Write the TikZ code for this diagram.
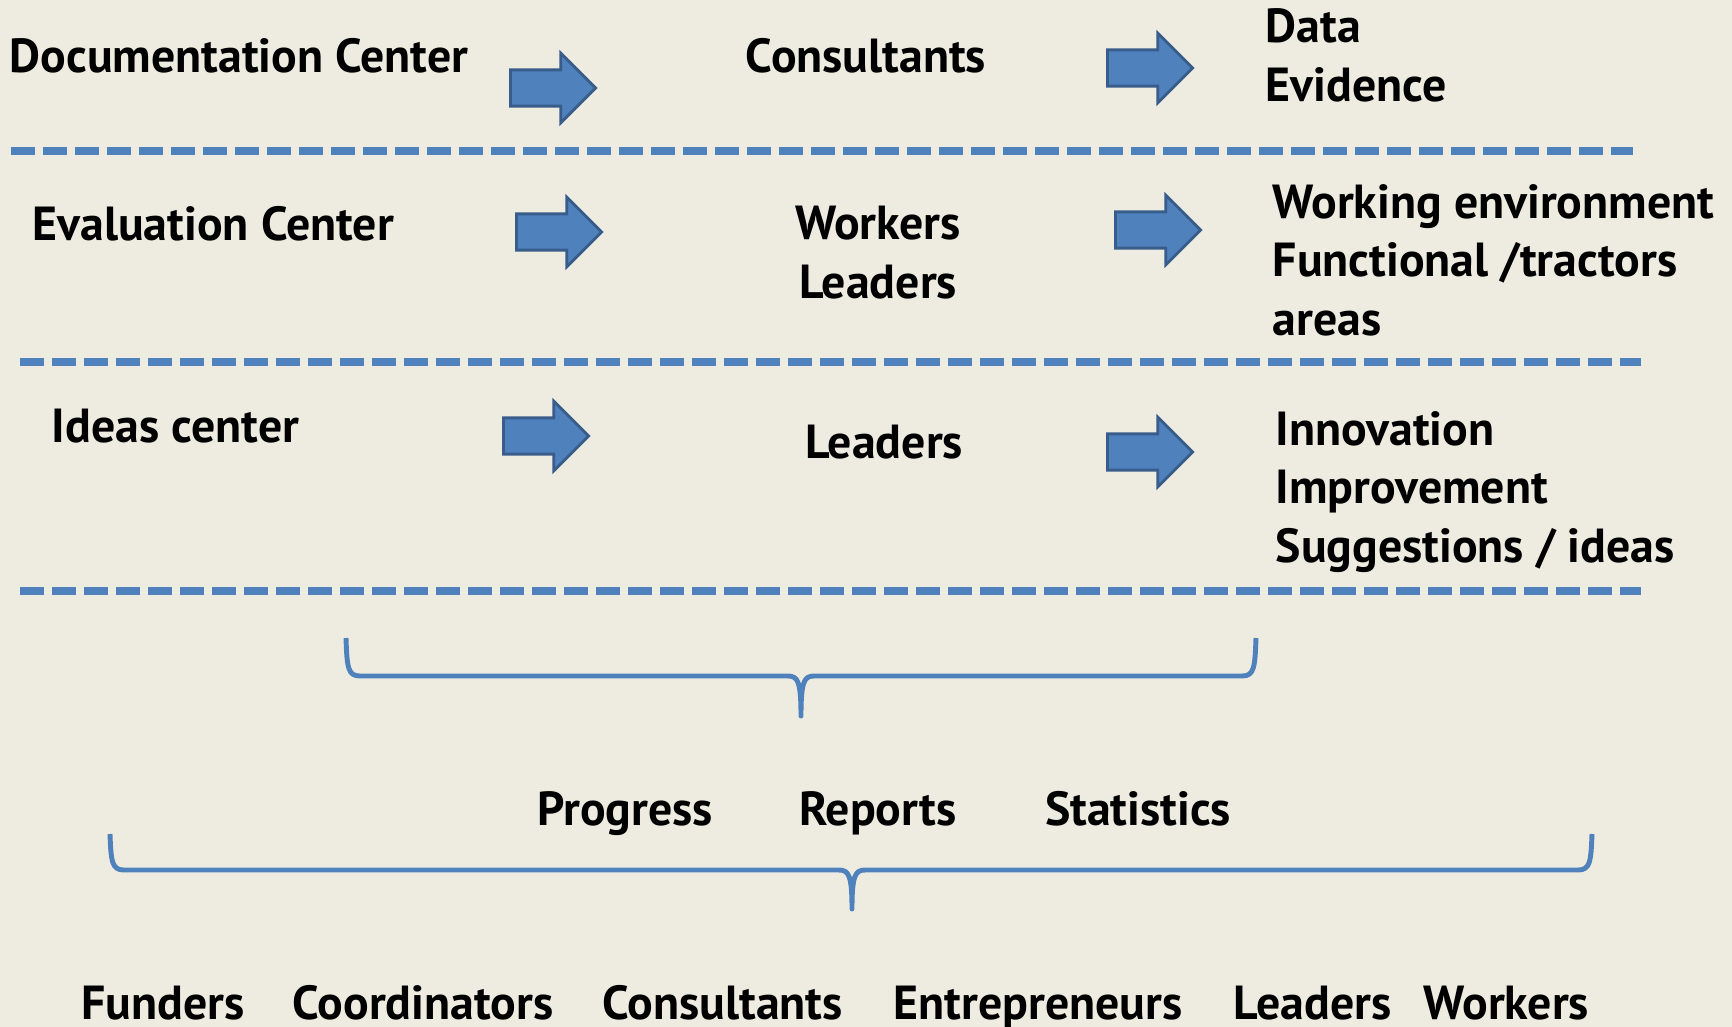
\documentclass[tikz,border=0pt]{standalone}
\usepackage{fontspec}
\setmainfont{PT Sans}
\usetikzlibrary{positioning,shapes.arrows}

\definecolor{paper}{HTML}{EEECE1}
\definecolor{lineblue}{HTML}{4F81BD}
\definecolor{arrowedge}{HTML}{385D8A}

\begin{document}
\begin{tikzpicture}[%
			x=0.01cm,
			y=-0.01cm,
			font=\bfseries\fontsize{13.6pt}{16.5pt}\selectfont,
			lbl/.style={%
				inner sep=0pt,
				anchor=base west,
				align=left
			},
			mid/.style={%
				inner sep=0pt,
				anchor=base
			},
			fatarrow/.style={%
				single arrow,
				draw=arrowedge,
				fill=lineblue,
				line width=0.8pt,
				inner xsep=0pt,
				inner ysep=0.167cm,
				text height=0pt,
				text depth=0pt,
				minimum height=0.85cm,
				single arrow head extend=0.167cm,
				single arrow head indent=0pt
			},
			sepline/.style={%
				draw=lineblue,
				line width=2.3pt,
				dash pattern=on 6.8pt off 2.3pt
			},
			brc/.style={%
				draw=lineblue,
				line width=1.4pt,
				line join=round
			}
			]
			\useasboundingbox[fill=paper] (0,0) rectangle (1732,1027);

			% first row
			\node[lbl] (doc)  at (9,72)    {Documentation Center};
			\node[fatarrow] (a1) at (544,88) {};
			\node[mid] (cons) at (866,72)  {Consultants};
			\node[fatarrow] (a2) at (1141,68) {};
			\node[lbl] (data) at (1265,101) {Data\\Evidence};
			\draw[sepline] (11,151) -- (1633,151);

			% second row
			\node[lbl] (eval) at (32,240)  {Evaluation Center};
			\node[fatarrow] (a3) at (550,232) {};
			\node[mid] (work) at (878,239) {Workers};
			\node[mid] (lead) at (878,298) {Leaders};
			\node[fatarrow] (a4) at (1149,230) {};
			\node[lbl] (env)  at (1272,335) {Working environment\\Functional /tractors\\areas};
			\draw[sepline] (20,362) -- (1641,362);

			% third row
			\node[lbl] (idea) at (51,442)  {Ideas center};
			\node[fatarrow] (a5) at (537,436) {};
			\node[mid] (lead2) at (884,458) {Leaders};
			\node[fatarrow] (a6) at (1141,452) {};
			\node[lbl] (inno) at (1275,562) {Innovation\\Improvement\\Suggestions / ideas};
			\draw[sepline] (20,591) -- (1641,591);

			% braces and outputs
			\coordinate (b1l) at (346,638);
			\coordinate (b1t) at (801,716);
			\coordinate (b1r) at (1256,638);
			\draw[brc] (b1l) .. controls (347,668) and (348,676) .. (360,676) -- (788,676)
				.. controls (798,676) and (801,682) .. (b1t)
				.. controls (801,682) and (804,676) .. (814,676) -- (1242,676)
				.. controls (1254,676) and (1255,668) .. (b1r);
			\node[mid] (prog) at (625,825)  {Progress};
			\node[mid] (rep)  at (878,825)  {Reports};
			\node[mid] (stat) at (1138,825) {Statistics};
			\coordinate (b2l) at (110,834);
			\coordinate (b2t) at (852,909);
			\coordinate (b2r) at (1592,834);
			\draw[brc] (b2l) .. controls (111,862) and (112,870) .. (124,870) -- (839,870)
				.. controls (849,870) and (852,876) .. (b2t)
				.. controls (852,876) and (855,870) .. (865,870) -- (1578,870)
				.. controls (1590,870) and (1591,862) .. (b2r);

			\node[lbl] (fund) at (81,1019)   {Funders};
			\node[lbl] (coor) at (292,1019)  {Coordinators};
			\node[lbl] (cons2) at (602,1019) {Consultants};
			\node[lbl] (entr) at (893,1019)  {Entrepreneurs};
			\node[lbl] (lead3) at (1233,1019) {Leaders};
			\node[lbl] (wrk2) at (1423,1019) {Workers};
\end{tikzpicture}
\end{document}
